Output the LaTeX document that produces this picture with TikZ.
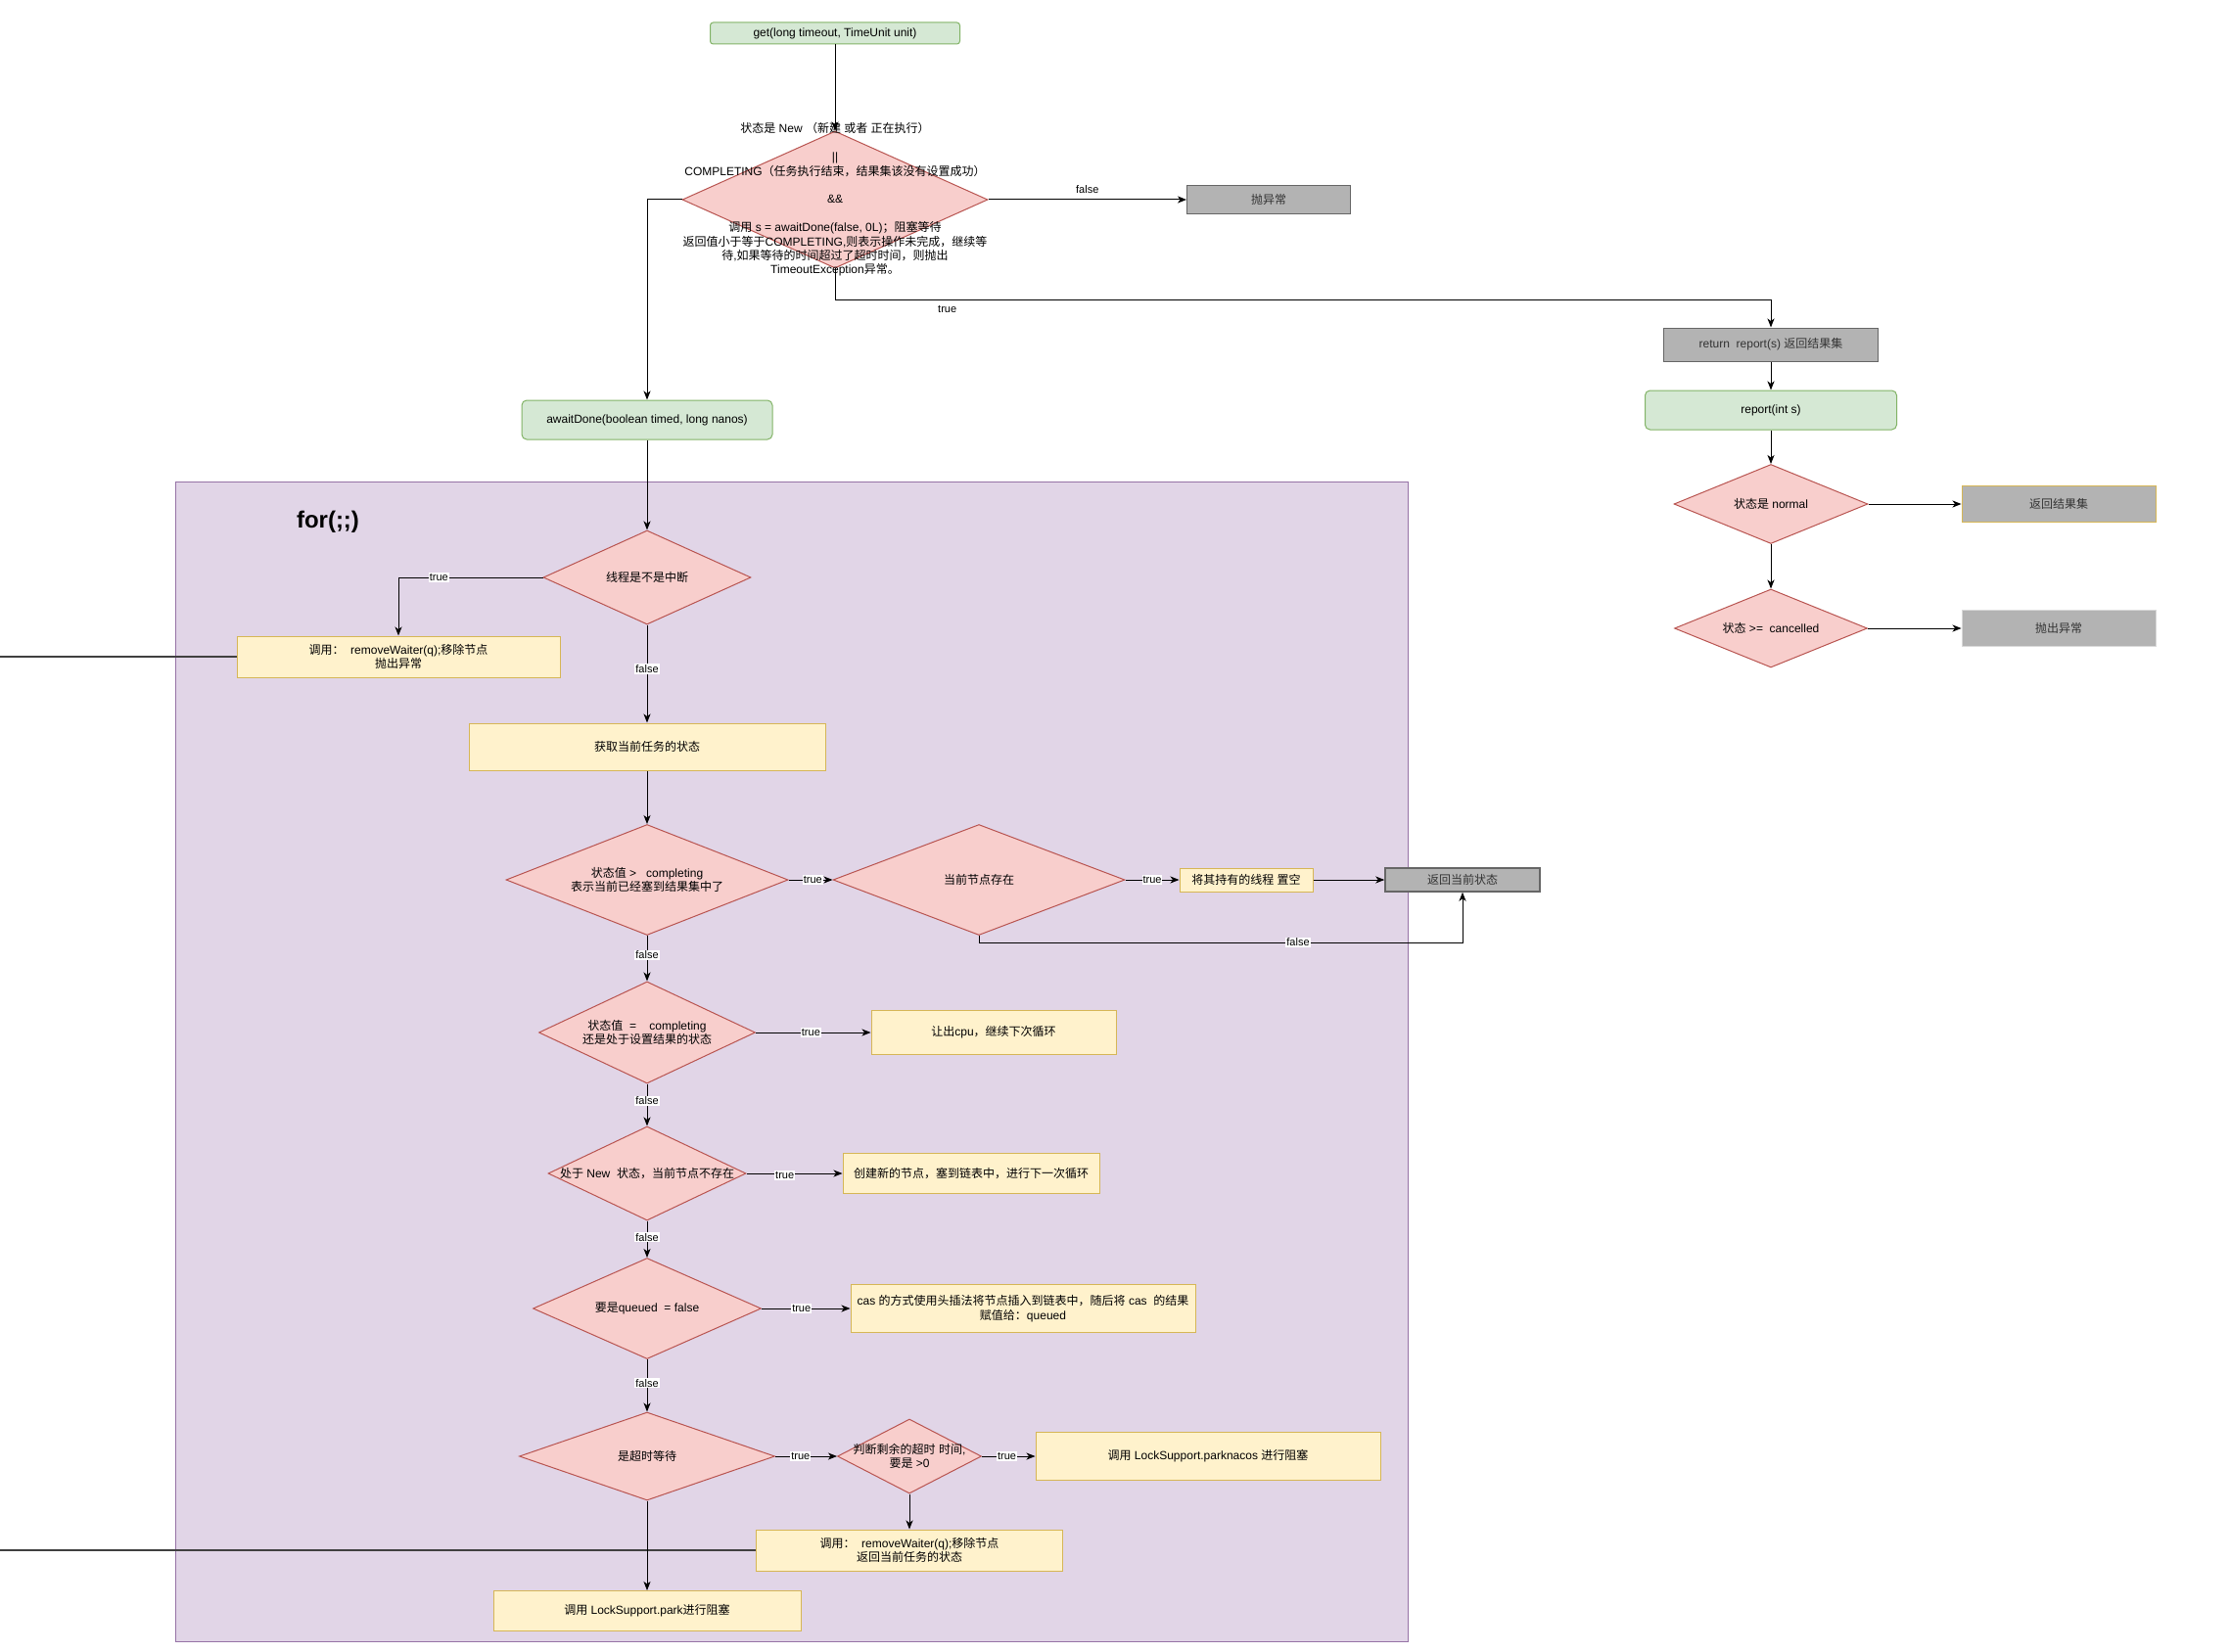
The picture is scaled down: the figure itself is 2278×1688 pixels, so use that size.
\documentclass[tikz,border=0pt]{standalone}
\usepackage{fontspec}
\setmainfont{Liberation Sans}
\newfontfamily\zhfont{Noto Sans CJK SC}
\usetikzlibrary{shapes.geometric,arrows.meta}
\definecolor{termfill}{HTML}{D5E8D4}
\definecolor{termline}{HTML}{82B366}
\definecolor{decfill}{HTML}{F8CECC}
\definecolor{decline}{HTML}{B85450}
\definecolor{actfill}{HTML}{FFF2CC}
\definecolor{actline}{HTML}{D6B656}
\definecolor{endfill}{HTML}{B3B3B3}
\definecolor{endline}{HTML}{666666}
\definecolor{loopfill}{HTML}{E1D5E7}
\definecolor{loopline}{HTML}{9673A6}
% Chinese glyphs from Noto Sans CJK, the rest from Liberation Sans
\XeTeXinterchartokenstate=1
\newXeTeXintercharclass\zhclass
\newcommand\zhrange[2]{%
  \count255=#1\relax
  \loop\XeTeXcharclass\count255=\zhclass
  \ifnum\count255<#2\relax\advance\count255 by 1 \repeat}
\zhrange{"3000}{"303F}
\zhrange{"4E00}{"9FFF}
\zhrange{"FF00}{"FFEF}
\XeTeXinterchartoks 0 \zhclass = {\begingroup\zhfont}
\XeTeXinterchartoks 4095 \zhclass = {\begingroup\zhfont}
\XeTeXinterchartoks \zhclass 0 = {\endgroup}
\XeTeXinterchartoks \zhclass 4095 = {\endgroup}

\begin{document}
\begin{tikzpicture}[x=1pt, y=-1pt,
  font=\fontsize{12}{14.4}\selectfont,
  term/.style={rectangle, rounded corners=5pt, draw=termline, fill=termfill,
    line width=1pt},
  dec/.style={diamond, draw=decline, fill=decfill, inner sep=0pt, line width=1pt},
  act/.style={rectangle, draw=actline, fill=actfill, line width=1pt, align=center},
  stop/.style={rectangle, draw=endline, fill=endfill, text=black!80, line width=1pt},
  dtxt/.style={align=center},
  edge/.style={-{Stealth[length=9pt, width=7pt, inset=2.5pt]}, line width=1pt},
  elab/.style={fill=white, inner sep=1pt, font=\fontsize{11}{13}\selectfont},
]
  \useasboundingbox (0,0) rectangle (2278,1688);

  % for(;;) loop
  \draw[draw=loopline, fill=loopfill, line width=1pt] (179,492) rectangle (1438,1677);
  \node[font=\fontsize{24}{28}\selectfont\bfseries] (forlbl) at (335,533) {for(;;)};

  % get(long timeout, TimeUnit unit)
  \node[term, rounded corners=3pt, minimum width=255pt, minimum height=22pt] (get)
    at (853,34) {get(long timeout, TimeUnit unit)};
  \node[dec, minimum width=312pt, minimum height=140pt,
    label={[dtxt]center:{状态是 New （新建 或者 正在执行）\\[14.4pt]||\\
      COMPLETING（任务执行结束，结果集该没有设置成功）\\[14.4pt]\&\&\\[14.4pt]
      调用 s = awaitDone(false, 0L)；阻塞等待\\
      返回值小于等于COMPLETING,则表示操作未完成，继续等\\
      待,如果等待的时间超过了超时时间，则抛出\\TimeoutException异常。}}] (chk)
    at (853,204) {};
  \node[stop, minimum width=167pt, minimum height=29pt] (thr) at (1296,204) {抛异常};

  % report(int s)
  \node[stop, minimum width=219pt, minimum height=34pt] (ret) at (1809,352)
    {return\ \ report(s) 返回结果集};
  \node[term, minimum width=257pt, minimum height=40pt] (rep) at (1809,419) {report(int s)};
  \node[dec, minimum width=198pt, minimum height=81pt,
    label={[dtxt]center:状态是 normal}] (norm) at (1809,515) {};
  \node[stop, draw=actline, minimum width=198pt, minimum height=37pt] (rset)
    at (2103,515) {返回结果集};
  \node[dec, minimum width=197pt, minimum height=80pt,
    label={[dtxt]center:{状态 >=\ \ cancelled}}] (canc) at (1809,642) {};
  \node[stop, draw=black!15, minimum width=198pt, minimum height=37pt] (thr2)
    at (2103,642) {抛出异常};

  % awaitDone(boolean timed, long nanos)
  \node[term, minimum width=256pt, minimum height=40pt] (await) at (661,429)
    {awaitDone(boolean timed, long nanos)};
  \node[dec, minimum width=212pt, minimum height=96pt,
    label={[dtxt]center:线程是不是中断}] (intr) at (661,590) {};
  \node[act, minimum width=330pt, minimum height=42pt] (rw1) at (407,671)
    {调用：\ \ removeWaiter(q);移除节点\\抛出异常};
  \node[act, minimum width=364pt, minimum height=48pt] (getst) at (661,763)
    {获取当前任务的状态};
  \node[dec, minimum width=288pt, minimum height=113pt,
    label={[dtxt]center:{状态值 >\ \ \ completing\\表示当前已经塞到结果集中了}}] (s1)
    at (661,899) {};
  \node[dec, minimum width=298pt, minimum height=113pt,
    label={[dtxt]center:当前节点存在}] (s2) at (1000,899) {};
  \node[act, minimum width=136pt, minimum height=24pt] (clr) at (1273,899)
    {将其持有的线程 置空};
  \node[stop, line width=1.5pt, minimum width=158pt, minimum height=24pt] (retst)
    at (1494,899) {返回当前状态};
  \node[dec, minimum width=221pt, minimum height=104pt,
    label={[dtxt]center:{状态值\ \ =\ \ \ \ completing\\还是处于设置结果的状态}}] (s3)
    at (661,1055) {};
  \node[act, minimum width=250pt, minimum height=45pt] (yld) at (1015,1055)
    {让出cpu，继续下次循环};
  \node[dec, minimum width=202pt, minimum height=96pt,
    label={[dtxt]center:{处于 New\ \ 状态，当前节点不存在}}] (s4) at (661,1199) {};
  \node[act, minimum width=262pt, minimum height=41pt] (newn) at (992,1199)
    {创建新的节点，塞到链表中，进行下一次循环};
  \node[dec, minimum width=233pt, minimum height=103pt,
    label={[dtxt]center:{要是queued\ \ = false}}] (s5) at (661,1337) {};
  \node[act, minimum width=352pt, minimum height=49pt] (cas) at (1045,1337)
    {cas 的方式使用头插法将节点插入到链表中，随后将 cas\ \ 的结果\\赋值给：queued};
  \node[dec, minimum width=261pt, minimum height=90pt,
    label={[dtxt]center:是超时等待}] (s6) at (661,1488) {};
  \node[dec, minimum width=147pt, minimum height=76pt,
    label={[dtxt]center:{判断剩余的超时 时间,\\要是 >0}}] (s7) at (929,1488) {};
  \node[act, minimum width=352pt, minimum height=49pt] (pnan) at (1234,1488)
    {调用 LockSupport.parknacos 进行阻塞};
  \node[act, minimum width=313pt, minimum height=42pt] (rw2) at (929,1584)
    {调用：\ \ removeWaiter(q);移除节点\\返回当前任务的状态};
  \node[act, minimum width=314pt, minimum height=41pt] (park) at (661,1646)
    {调用 LockSupport.park进行阻塞};

  % connectors
  \coordinate (chkturn) at (853,307);
  \coordinate (rw1out) at (0,671);
  \coordinate (rw2out) at (0,1584);

  \draw[edge] (get) -- (chk);
  \draw[edge] (chk.east) -- node[elab, above=5pt, fill=none] {false} (thr);
  \draw[edge] (chk.south) -- (chkturn) -| node[elab, below=4pt, pos=0.06] {true} (ret);
  \draw[edge] (chk.west) -| (await);
  \draw[edge] (ret) -- (rep);
  \draw[edge] (rep) -- (norm);
  \draw[edge] (norm) -- (rset);
  \draw[edge] (norm) -- (canc);
  \draw[edge] (canc) -- (thr2);

  \draw[edge] (await) -- (intr);
  \draw[edge] (intr.west) -| node[elab, pos=0.36] {true} (rw1);
  \draw[line width=1.2pt, black!75] (rw1) -- (rw1out);
  \draw[edge] (intr) -- node[elab, pos=0.45] {false} (getst);
  \draw[edge] (getst) -- (s1);
  \draw[edge] (s1) -- node[elab, pos=0.55] {true} (s2);
  \draw[edge] (s2) -- node[elab] {true} (clr);
  \draw[edge] (clr) -- (retst);
  \draw[edge] (s2.south) -- ++(0,7) -| node[elab, pos=0.33] {false} (retst);
  \draw[edge] (s1) -- node[elab, pos=0.43] {false} (s3);
  \draw[edge] (s3) -- node[elab, pos=0.48] {true} (yld);
  \draw[edge] (s3) -- node[elab, pos=0.4] {false} (s4);
  \draw[edge] (s4) -- node[elab, pos=0.4, yshift=-2pt] {true} (newn);
  \draw[edge] (s4) -- node[elab, pos=0.45] {false} (s5);
  \draw[edge] (s5) -- node[elab, pos=0.45] {true} (cas);
  \draw[edge] (s5) -- node[elab, pos=0.45] {false} (s6);
  \draw[edge] (s6) -- node[elab, pos=0.41] {true} (s7);
  \draw[edge] (s7) -- node[elab, pos=0.47] {true} (pnan);
  \draw[edge] (s7) -- (rw2);
  \draw[line width=1.2pt, black!75] (rw2) -- (rw2out);
  \draw[-{Stealth[length=9pt, width=7pt, inset=2.5pt]}, line width=0.6pt] (s6) -- (park);
\end{tikzpicture}
\end{document}
